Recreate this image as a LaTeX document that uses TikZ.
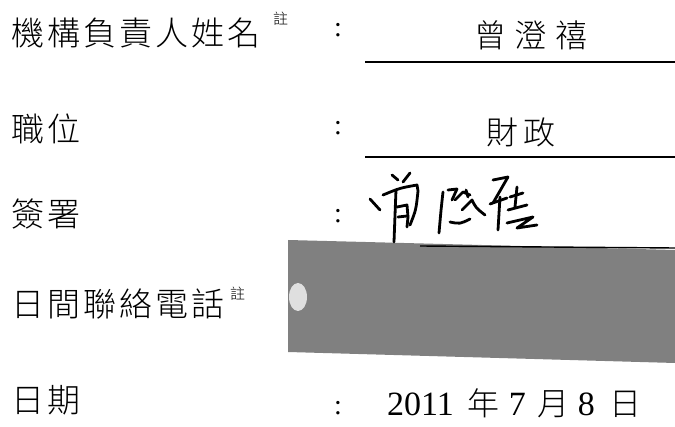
\documentclass[tikz,border=0pt]{standalone}
\usepackage{fontspec}
\newfontfamily\cjk{Noto Sans CJK TC Light}
\newfontfamily\dig{Liberation Serif}
\definecolor{redact}{RGB}{128,128,128}
\newcommand\chgap[1][3pt]{\hspace{#1}}
\begin{document}
\begin{tikzpicture}[x=1pt,y=-1pt,
  lab/.style={anchor=west, inner sep=0pt, font=\cjk\fontsize{33}{35}\selectfont},
  note/.style={anchor=west, inner sep=0pt, font=\cjk\fontsize{15}{16}\selectfont},
  colon/.style={inner sep=0pt, font=\dig\fontsize{28}{30}\selectfont},
  val/.style={inner sep=0pt, font=\cjk\fontsize{32}{34}\selectfont},
  rule/.style={line width=1.4pt},
  sig/.style={line width=2.8pt, line cap=round, line join=round}]
\useasboundingbox (0,0) rectangle (675,427);
% labels
\node[lab] (l1) at (11,33) {機\chgap 構\chgap 負\chgap 責\chgap 人\chgap 姓\chgap 名};
\node[note] (n1) at (273,19) {註};
\node[lab] (l2) at (11,129) {職\chgap 位};
\node[lab] (l3) at (11,214) {簽\chgap 署};
\node[lab] (l4) at (11,304) {日\chgap 間\chgap 聯\chgap 絡\chgap 電\chgap 話};
\node[note] (n4) at (230,294) {註};
\node[lab] (l5) at (11,400) {日\chgap 期};
% colons
\node[colon] (c1) at (338,30) {:};
\node[colon] (c2) at (338,128) {:};
\node[colon] (c3) at (338,216) {:};
\node[colon] (c5) at (338,408) {:};
% values
\node[val] (v1) at (531,35) {曾\chgap[9pt]澄\chgap[9pt]禧};
\draw[rule] (365,62) -- (675,62);
\node[val] (v2) at (521,132) {財\chgap[6pt]政};
\draw[rule] (365,157) -- (675,157);
% redaction
\fill[redact] (288,240) -- (675,250) -- (675,363) -- (288,352) -- cycle;
\fill[gray!25] (298,297) ellipse (9 and 14);
\draw[rule] (420,246) -- (675,248);
% signature
\draw[sig] (370,199) -- (380,210);
\draw[sig] (383,195) .. controls (400,188) .. (417,185) -- (418,191) .. controls (416,210) .. (410,225);
\draw[sig] (396,190) .. controls (395,215) .. (394,242);
\draw[sig] (397,207) -- (407,205) -- (408,217) -- (407,227);
\draw[sig] (398,217) -- (407,216);
\draw[sig] (392,175) -- (398,180);
\draw[sig] (410,173) -- (403,182);
\draw[sig] (443,192) .. controls (441,210) .. (439,233);
\draw[sig] (448,190) -- (457,189) -- (452,200);
\draw[sig] (455,200) -- (463,192) -- (470,195);
\draw[sig] (462,210) -- (472,200) .. controls (476,208) .. (485,215);
\draw[sig] (466,190) -- (468,197);
\draw[sig] (450,222) .. controls (460,224) .. (470,219);
\draw[sig] (493,180) -- (508,177) -- (493,203);
\draw[sig] (500,197) -- (498,230);
\draw[sig] (490,204) -- (507,198);
\draw[sig] (510,197) -- (523,193);
\draw[sig] (517,187) -- (515,207);
\draw[sig] (508,210) -- (527,205);
\draw[sig] (507,223) -- (520,220) -- (533,217) -- (517,228) -- (537,225);
% date
\node[anchor=west, inner sep=0pt, font=\cjk\fontsize{32}{34}\selectfont] (v5) at (387,403)
  {{\dig\fontsize{34}{36}\selectfont 2011}\hspace{14pt}年\hspace{9pt}{\dig\fontsize{34}{36}\selectfont 7}\hspace{12pt}月\hspace{8pt}{\dig\fontsize{34}{36}\selectfont 8}\hspace{15pt}日};
\end{tikzpicture}
\end{document}
